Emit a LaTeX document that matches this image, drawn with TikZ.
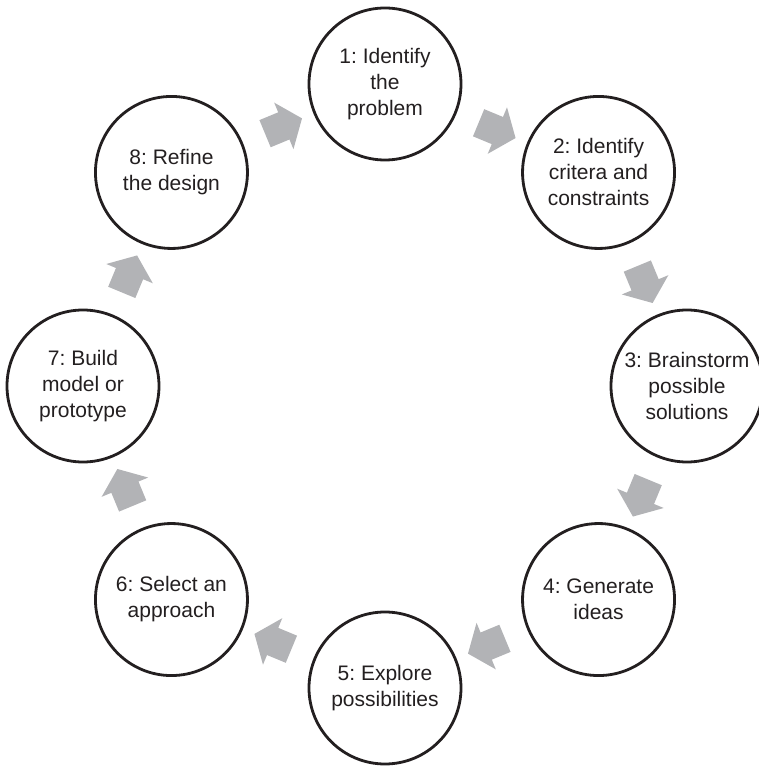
\documentclass[tikz,border=0pt]{standalone}
\usepackage{fontspec}
\setmainfont{Liberation Sans}
\usetikzlibrary{shapes.arrows,calc}

\definecolor{arrowGray}{RGB}{178,179,182}
\definecolor{inkBlack}{RGB}{35,31,32}

\def \ringRadius {302pt}
\def \stageSize {152pt}

\begin{document}
\frenchspacing
\begin{tikzpicture}[
      stage/.style={circle, draw=inkBlack, line width=2.8pt, minimum size=\stageSize,
         inner sep=0pt, align=center, text=inkBlack, font=\fontsize{21}{26}\selectfont},
      flow/.style={single arrow, fill=arrowGray, draw=none, inner xsep=0pt, inner ysep=14.5pt,
         minimum height=40pt, single arrow head extend=10.5pt, single arrow tip angle=104}
   ]
   \useasboundingbox (-385pt,-381pt) rectangle (373pt,386pt);

   % the eight steps, clockwise from the top
   \node[stage] (s1) at (90:\ringRadius) {1: Identify\\the\\problem};
   \node[stage] (s2) at (45:\ringRadius) {2: Identify\\critera and\\constraints};
   \node[stage] (s3) at (0:\ringRadius) {3: Brainstorm\\possible\\solutions};
   \node[stage] (s4) at (-45:\ringRadius) {4: Generate\\ideas};
   \node[stage] (s5) at (-90:\ringRadius) {5: Explore\\possibilities};
   \node[stage] (s6) at (-135:\ringRadius) {6: Select an\\approach};
   \node[stage] (s7) at (180:\ringRadius) {7: Build\\model or\\prototype};
   \node[stage] (s8) at (135:\ringRadius) {8: Refine\\the design};

   % block arrows half way between the steps
   \node[flow, rotate=-22.5] (a12) at ($(s1)!0.5!(s2)$) {};
   \node[flow, rotate=-67.5] (a23) at ($(s2)!0.5!(s3)$) {};
   \node[flow, rotate=-112.5] (a34) at ($(s3)!0.5!(s4)$) {};
   \node[flow, rotate=-157.5] (a45) at ($(s4)!0.5!(s5)$) {};
   \node[flow, rotate=157.5] (a56) at ($(s5)!0.5!(s6)$) {};
   \node[flow, rotate=112.5] (a67) at ($(s6)!0.5!(s7)$) {};
   \node[flow, rotate=67.5] (a78) at ($(s7)!0.5!(s8)$) {};
   \node[flow, rotate=22.5] (a81) at ($(s8)!0.5!(s1)$) {};
\end{tikzpicture}
\end{document}
